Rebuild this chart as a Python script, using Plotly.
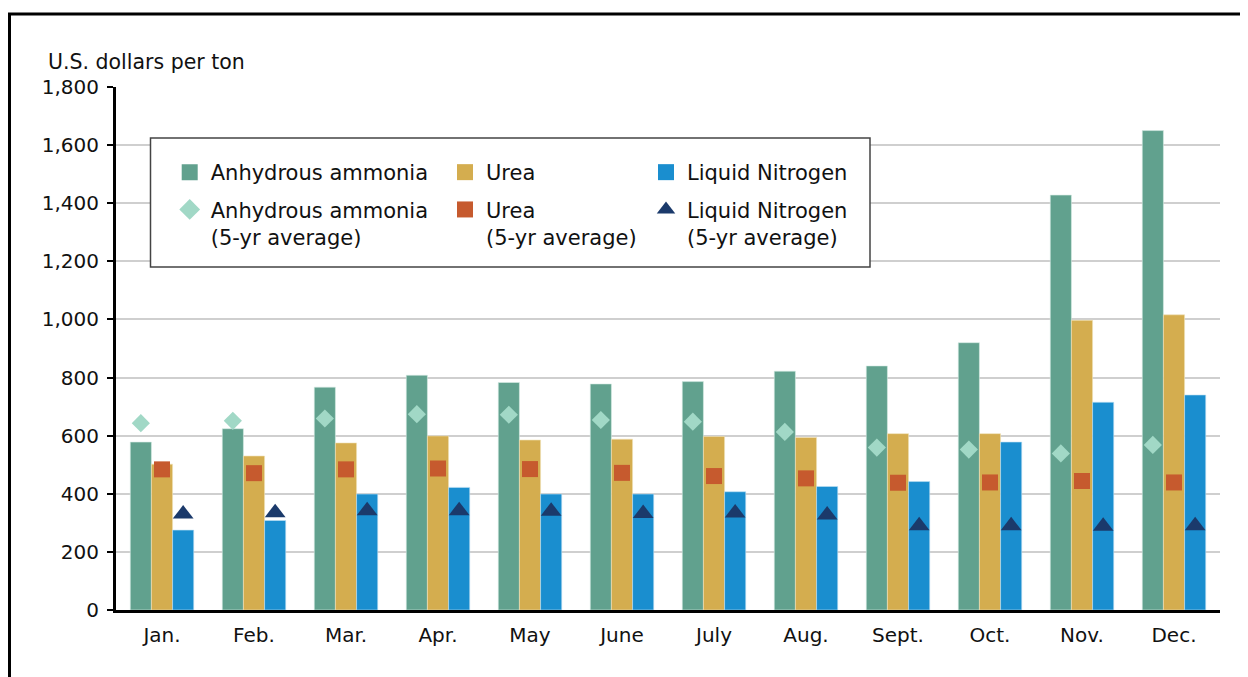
import plotly.graph_objects as go

months = ["Jan.", "Feb.", "Mar.", "Apr.", "May", "June", "July", "Aug.", "Sept.", "Oct.", "Nov.", "Dec."]

ammonia = [578, 624, 767, 808, 783, 778, 786, 822, 840, 920, 1428, 1650]
urea = [502, 530, 575, 599, 585, 588, 597, 594, 607, 607, 997, 1016]
liquid = [275, 308, 399, 422, 399, 399, 407, 425, 442, 578, 715, 740]

ammonia_avg = [643, 651, 659, 674, 672, 654, 648, 613, 559, 552, 539, 568]
urea_avg = [484, 471, 484, 487, 485, 472, 461, 453, 438, 439, 444, 439]
liquid_avg = [330, 335, 342, 342, 340, 332, 334, 327, 290, 290, 288, 290]

y_ticks = [0, 200, 400, 600, 800, 1000, 1200, 1400, 1600, 1800]

C_AMM = "#61A18E"
C_UREA = "#D4AD4F"
C_LIQ = "#1A8ECF"
C_AMM_AVG = "#A1D8C6"
C_UREA_AVG = "#C65A2E"
C_LIQ_AVG = "#1B3A6B"

FONT = "DejaVu Sans, Liberation Sans, Arial, sans-serif"
TXT = "#111"

# page offset of the browser body (8px default margin)
OFF = 8
W, H = 1248 - OFF, 677 - OFF
# plot area in reference-pixel coordinates
PL, PR, PT, PB = 116, 1220, 87, 610
L, R, T, B = PL - OFF, W - (PR - OFF), PT - OFF, H - (PB - OFF)
pw = PR - PL
ph = PB - PT


def px_x(p):
    return (p - PL) / pw


def px_y(p):
    return (PB - p) / ph


fig = go.Figure()

# data traces
fig.add_trace(go.Bar(x=months, y=ammonia, name="Anhydrous ammonia", marker_color=C_AMM,
                     marker_line=dict(color="#d8ece6", width=0.6), offsetgroup="a", showlegend=False))
fig.add_trace(go.Bar(x=months, y=urea, name="Urea", marker_color=C_UREA,
                     marker_line=dict(color="#f0e2bb", width=0.6), offsetgroup="b", showlegend=False))
fig.add_trace(go.Bar(x=months, y=liquid, name="Liquid Nitrogen", marker_color=C_LIQ,
                     marker_line=dict(color="#bfe0f3", width=0.6), offsetgroup="c", showlegend=False))
fig.add_trace(go.Scatter(x=months, y=ammonia_avg, mode="markers", name="Anhydrous ammonia (5-yr average)",
                         marker=dict(symbol="diamond", size=14, color=C_AMM_AVG), offsetgroup="a",
                         showlegend=False))
fig.add_trace(go.Scatter(x=months, y=urea_avg, mode="markers", name="Urea (5-yr average)",
                         marker=dict(symbol="square", size=16, color=C_UREA_AVG), offsetgroup="b",
                         showlegend=False))
fig.add_trace(go.Scatter(x=months, y=liquid_avg, mode="markers", name="Liquid Nitrogen (5-yr average)",
                         marker=dict(symbol="triangle-up", size=18, color=C_LIQ_AVG), offsetgroup="c",
                         showlegend=False))

# legend entries (three columns, each its own legend)
legend_items = [
    ("legend", "a", "g1", "Anhydrous ammonia", "square", C_AMM),
    ("legend", "a", "g2", "Anhydrous ammonia<br>(5-yr average)", "diamond", C_AMM_AVG),
    ("legend2", "b", "g3", "Urea", "square", C_UREA),
    ("legend2", "b", "g4", "Urea<br>(5-yr average)", "square", C_UREA_AVG),
    ("legend3", "c", "g5", "Liquid Nitrogen", "square", C_LIQ),
    ("legend3", "c", "g6", "Liquid Nitrogen<br>(5-yr average)", "triangle-up", C_LIQ_AVG),
]
for leg, grp, lg, name, sym, col in legend_items:
    fig.add_trace(go.Scatter(x=[None], y=[None], mode="markers", name=name, legend=leg, offsetgroup=grp,
                             legendgroup=lg, marker=dict(symbol=sym, size=16, color=col), hoverinfo="skip"))

leg_common = dict(bgcolor="rgba(0,0,0,0)", borderwidth=0, orientation="v", xanchor="left", yanchor="top",
                  font=dict(family=FONT, size=21, color=TXT), valign="top", itemwidth=32,
                  tracegroupgap=7, traceorder="grouped", itemclick=False, itemdoubleclick=False)

fig.update_layout(
    width=W, height=H,
    margin=dict(l=L, r=R, t=T, b=B, pad=0),
    paper_bgcolor="white", plot_bgcolor="white",
    barmode="group", bargap=0.31, bargroupgap=0,
    scattermode="group", scattergap=0.31,
    font=dict(family=FONT, size=20, color=TXT),
    showlegend=True,
    legend=dict(x=px_x(168.7), y=px_y(152), **leg_common),
    legend2=dict(x=px_x(444), y=px_y(152), **leg_common),
    legend3=dict(x=px_x(645), y=px_y(152), **leg_common),
    xaxis=dict(type="category", showgrid=False, showline=True, linecolor="#000", linewidth=3,
               ticks="", ticklabelstandoff=5, tickfont=dict(family=FONT, size=20, color=TXT),
               fixedrange=True),
    yaxis=dict(range=[0, 1800], tickvals=y_ticks, tickformat=",d", showgrid=True, gridcolor="#cfcfcf",
               gridwidth=1.5, showline=True, linecolor="#000", linewidth=3, ticks="outside",
               ticklen=6, tickwidth=2, tickcolor="#000", zeroline=False, ticklabelstandoff=4,
               tickfont=dict(family=FONT, size=20, color=TXT), fixedrange=True),
    shapes=[
        dict(type="rect", xref="paper", yref="paper", x0=px_x(150.5), x1=px_x(870), y0=px_y(267), y1=px_y(138),
             line=dict(color="#444", width=1.5), fillcolor="white", layer="above"),
        dict(type="rect", xref="paper", yref="paper", x0=px_x(9.5), x1=px_x(1262), y0=px_y(720), y1=px_y(14),
             line=dict(color="#000", width=3), fillcolor="rgba(0,0,0,0)", layer="above"),
    ],
    annotations=[
        dict(text="U.S. dollars per ton", xref="paper", yref="paper", x=px_x(46), y=px_y(62),
             xanchor="left", yanchor="middle", showarrow=False,
             font=dict(family=FONT, size=20.5, color=TXT)),
    ],
)

fig.write_html("out.html")
